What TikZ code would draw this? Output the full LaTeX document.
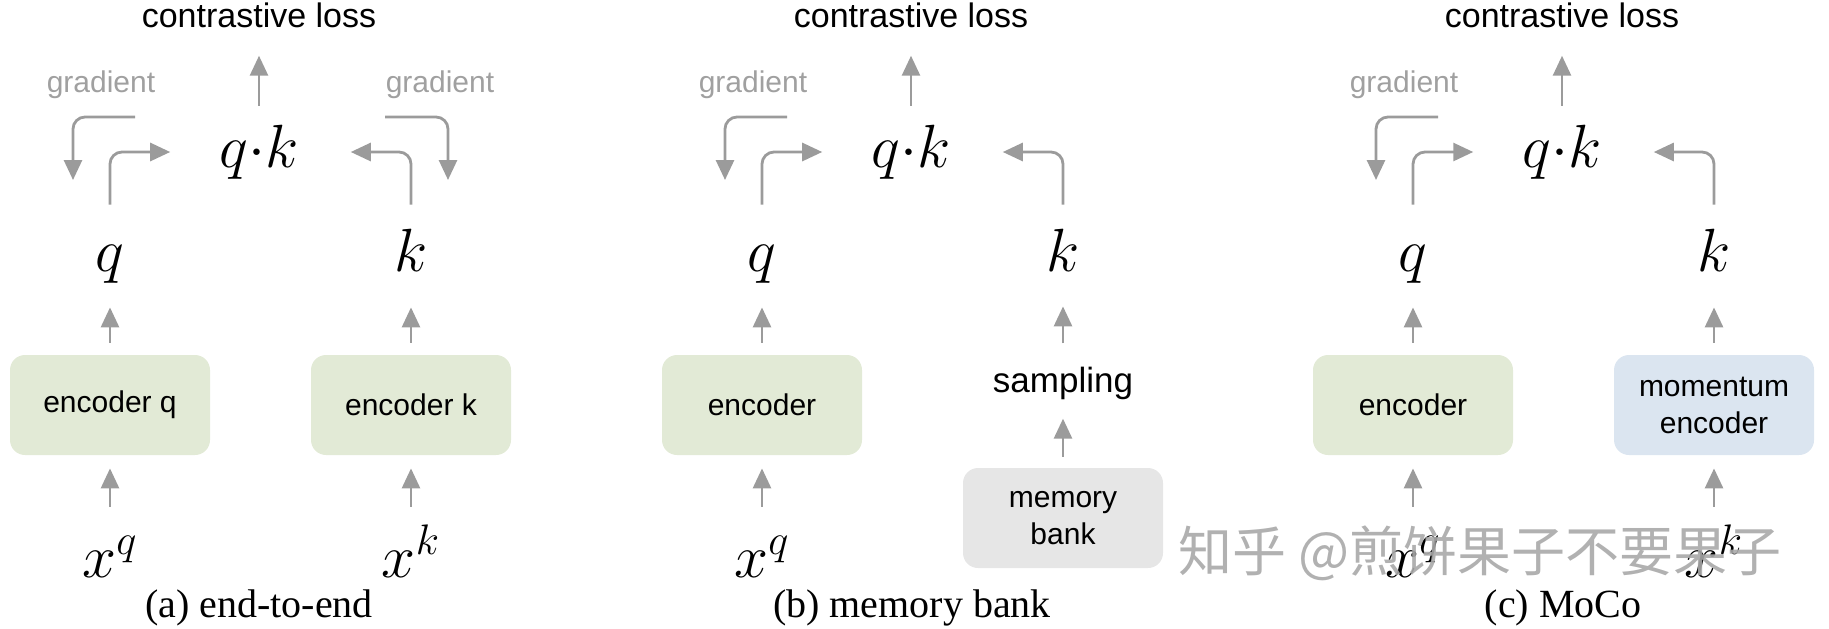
\RequirePackage{fix-cm}
\documentclass[tikz,border=0pt]{standalone}
\usepackage{fontspec}
\setmainfont{Liberation Serif}
\setsansfont{Liberation Sans}
\newfontfamily\cjkfont{Noto Sans CJK SC}
\usetikzlibrary{arrows.meta}
\definecolor{arrowgray}{HTML}{9B9B9B}
\definecolor{gradgray}{HTML}{A0A0A0}
\definecolor{greenbox}{HTML}{E2EAD6}
\definecolor{bluebox}{HTML}{DBE5F0}
\definecolor{graybox}{HTML}{E6E6E6}
\definecolor{wmgray}{HTML}{A8A8A8}
\begin{document}
\begin{tikzpicture}[x=0.5pt,y=-0.5pt,
  arr/.style={draw=arrowgray, line width=1.4pt, -{Triangle[length=10pt,width=9pt]}, rounded corners=6pt},
  mlbl/.style={inner sep=0pt, text height=21pt, text depth=6pt, anchor=base, font=\fontsize{30.5}{36}\selectfont},
  losslbl/.style={inner sep=0pt, anchor=base, font=\sffamily\fontsize{17}{20}\selectfont},
  samplbl/.style={inner sep=0pt, anchor=base, font=\sffamily\fontsize{17.5}{20}\selectfont},
  gradlbl/.style={inner sep=0pt, anchor=base, text=gradgray, font=\sffamily\fontsize{15}{18}\selectfont},
  encbox/.style={rounded corners=7.5pt, minimum width=100pt, minimum height=50pt, inner sep=0pt, align=center, font=\sffamily\fontsize{15}{18.5}\selectfont},
  caplbl/.style={inner sep=0pt, anchor=base, font=\fontsize{20}{23}\selectfont}]
\useasboundingbox (0,0) rectangle (1829,628);

% ---------------- panel (a) ----------------
\node[losslbl] (cla) at (259,27) {contrastive loss};
\node[mlbl] (qka) at (259,167) {$q{\cdot}k$};
\node[gradlbl] (gla) at (101,92) {gradient};
\node[gradlbl] (gra) at (440,92) {gradient};
\node[mlbl] (qa) at (110,271) {$q$};
\node[mlbl] (ka) at (411,271) {$k$};
\node[encbox, fill=greenbox] (encqa) at (110,405) {encoder q};
\node[encbox, fill=greenbox] (encka) at (411,405) {encoder k};
\node[mlbl] (xqa) at (110,577) {$x^q$};
\node[mlbl] (xka) at (411,577) {$x^k$};
\node[caplbl] (capa) at (259,617) {(a) end-to-end};
\coordinate (gla1) at (135,117); \coordinate (gla2) at (73,180);
\coordinate (gra1) at (385,117); \coordinate (gra2) at (448,180);
\draw[arr, shorten <=9.5pt, shorten >=14pt] (qka) -- (cla);
\draw[arr] (gla1) -| (gla2);
\draw[arr] (gra1) -| (gra2);
\draw[arr, shorten <=12pt, shorten >=24.5pt] (qa.north) |- (qka.west);
\draw[arr, shorten <=12pt, shorten >=26pt] (ka.north) |- (qka.east);
\draw[arr, shorten <=6pt, shorten >=12pt] (encqa.north) -- (qa.south);
\draw[arr, shorten <=6pt, shorten >=12pt] (encka.north) -- (ka.south);
\draw[arr, shorten <=14pt, shorten >=6.5pt] (xqa.north) -- (encqa.south);
\draw[arr, shorten <=14pt, shorten >=6.5pt] (xka.north) -- (encka.south);

% ---------------- panel (b) ----------------
\begin{scope}[xshift=326pt]
\node[losslbl] (clb) at (259,27) {contrastive loss};
\node[mlbl] (qkb) at (259,167) {$q{\cdot}k$};
\node[gradlbl] (glb) at (101,92) {gradient};
\node[mlbl] (qb) at (110,271) {$q$};
\node[mlbl] (kb) at (411,271) {$k$};
\node[encbox, fill=greenbox] (encb) at (110,405) {encoder};
\node[samplbl] (sampb) at (411,392) {sampling};
\node[encbox, fill=graybox] (memb) at (411,518) {memory\\bank};
\node[mlbl] (xqb) at (110,577) {$x^q$};
\node[caplbl] (capb) at (260,617) {(b) memory bank};
\coordinate (glb1) at (135,117); \coordinate (glb2) at (73,180);
\draw[arr, shorten <=9.5pt, shorten >=14pt] (qkb) -- (clb);
\draw[arr] (glb1) -| (glb2);
\draw[arr, shorten <=12pt, shorten >=24.5pt] (qb.north) |- (qkb.west);
\draw[arr, shorten <=12pt, shorten >=26pt] (kb.north) |- (qkb.east);
\draw[arr, shorten <=6pt, shorten >=12pt] (encb.north) -- (qb.south);
\draw[arr, shorten <=11.5pt, shorten >=11.5pt] (sampb.north) -- (kb.south);
\draw[arr, shorten <=5.5pt, shorten >=9.5pt] (memb.north) -- (sampb.south);
\draw[arr, shorten <=14pt, shorten >=6.5pt] (xqb.north) -- (encb.south);
\end{scope}

% ---------------- panel (c) ----------------
\begin{scope}[xshift=651.5pt]
\node[losslbl] (clc) at (259,27) {contrastive loss};
\node[mlbl] (qkc) at (259,167) {$q{\cdot}k$};
\node[gradlbl] (glc) at (101,92) {gradient};
\node[mlbl] (qc) at (110,271) {$q$};
\node[mlbl] (kc) at (411,271) {$k$};
\node[encbox, fill=greenbox] (encc) at (110,405) {encoder};
\node[encbox, fill=bluebox] (momc) at (411,405) {momentum\\encoder};
\node[mlbl] (xqc) at (110,577) {$x^q$};
\node[mlbl] (xkc) at (411,577) {$x^k$};
\node[caplbl] (capc) at (260,617) {(c) MoCo};
\coordinate (glc1) at (135,117); \coordinate (glc2) at (73,180);
\draw[arr, shorten <=9.5pt, shorten >=14pt] (qkc) -- (clc);
\draw[arr] (glc1) -| (glc2);
\draw[arr, shorten <=12pt, shorten >=24.5pt] (qc.north) |- (qkc.west);
\draw[arr, shorten <=12pt, shorten >=26pt] (kc.north) |- (qkc.east);
\draw[arr, shorten <=6pt, shorten >=12pt] (encc.north) -- (qc.south);
\draw[arr, shorten <=6pt, shorten >=12pt] (momc.north) -- (kc.south);
\draw[arr, shorten <=14pt, shorten >=6.5pt] (xqc.north) -- (encc.south);
\draw[arr, shorten <=14pt, shorten >=6.5pt] (xkc.north) -- (momc.south);
\end{scope}

% watermark
\node[inner sep=0pt, text=wmgray, opacity=0.9, font=\cjkfont\fontsize{27}{30}\selectfont] (wm) at (1480,553) {知乎 @煎饼果子不要果子};
\end{tikzpicture}
\end{document}
